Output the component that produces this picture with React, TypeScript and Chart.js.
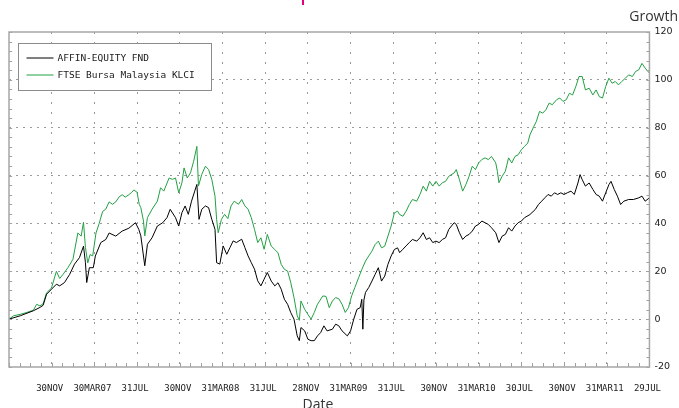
import React, { useEffect, useRef } from 'react';
import { Chart, registerables } from 'chart.js';

Chart.register(...registerables);

// ---- Data (months since 31 Jul 2006, cumulative growth %) ----
const seriesNames = ['AFFIN-EQUITY FND', 'FTSE Bursa Malaysia KLCI'];

const fundMonths = [
  0, 1.05, 2.28, 2.9, 3.2, 3.52, 3.98, 4.44, 4.75, 5.2,
  5.68, 6.14, 6.6, 6.98, 7.16, 7.28, 7.53, 7.9, 8.09, 8.6,
  9.07, 9.38, 10.0, 10.6, 11.23, 11.85, 12.16, 12.35, 12.72, 12.97,
  13.4, 13.9, 14.4, 14.8, 15.1, 15.6, 15.9, 16.2, 16.5, 16.8,
  17.1, 17.4, 17.6, 17.8, 18.06, 18.4, 18.7, 19.0, 19.3, 19.45,
  19.75, 20.06, 20.4, 20.7, 21.0, 21.3, 21.8, 22.1, 22.4, 22.7,
  23.0, 23.3, 23.6, 23.9, 24.2, 24.57, 24.9, 25.2, 25.5, 25.8,
  26.1, 26.4, 26.7, 27.0, 27.2, 27.35, 27.7, 28.0, 28.3, 28.6,
  28.9, 29.2, 29.5, 29.8, 30.3, 30.6, 30.9, 31.2, 31.7, 32.0,
  32.3, 32.6, 32.9, 33.05, 33.15, 33.25, 33.4, 33.7, 34.0, 34.3,
  34.6, 34.9, 35.2, 35.5, 35.8, 36.1, 36.4, 36.6, 36.9, 37.2,
  37.5, 37.8, 38.2, 38.5, 38.8, 39.1, 39.4, 39.7, 40.0, 40.3,
  40.6, 40.9, 41.2, 41.7, 41.9, 42.2, 42.5, 42.8, 43.1, 43.4,
  43.7, 44.0, 44.3, 44.6, 44.9, 45.2, 45.6, 45.9, 46.2, 46.5,
  46.8, 47.1, 47.4, 47.7, 48.0, 48.3, 48.8, 49.3, 49.6, 49.9,
  50.2, 50.5, 50.8, 51.1, 51.4, 51.7, 52.0, 52.3, 52.65, 52.96,
  53.3, 53.5, 53.7, 54.0, 54.35, 54.7, 55.0, 55.3, 55.6, 55.9,
  56.2, 56.4, 56.7, 57.0, 57.3, 57.6, 58.05, 58.5, 59.0, 59.3,
  59.6, 60.0,
];
const fundValues = [
  0, 1.4, 3.5, 4.9, 5.8, 10.4, 12.5, 14.6, 13.9, 15.3,
  18.7, 23, 25.7, 30.5, 23.6, 15.3, 21.5, 21.5, 26.4, 32,
  33.3, 36, 34.7, 36.8, 38, 40.3, 37.5, 34.8, 22.3, 31.3,
  34, 38.9, 40.3, 42.4, 45.9, 42.4, 38.9, 44.5, 47.3, 43.8,
  49.3, 53.5, 56.3, 41.7, 45.9, 47.3, 46.6, 41.7, 37.5, 23.6,
  23, 30.6, 27.1, 29.9, 32.7, 32, 33.4, 29.9, 26.4, 23.6,
  20.9, 16, 13.9, 16.7, 19.5, 15.9, 13.9, 15.2, 12.5, 8.3,
  6.2, 2.7, 0, -7, -9, -3.5, -4.9, -8.4, -9, -9,
  -7, -5.6, -2.8, -4.9, -4.2, -2.1, -2.8, -4.9, -7, -4.9,
  0, 4.1, 4.8, 8.3, -4.2, 8, 11.2, 13.2, 15.9, 18.7,
  21.5, 15.9, 18, 22.9, 26.4, 29.1, 29.8, 27.8, 29.2, 30.6,
  32, 33.3, 32.6, 34, 36.1, 33.3, 34, 32, 32.6, 32,
  33.3, 34, 37.5, 40.3, 39.6, 36.1, 33.3, 34.7, 35.4, 36.8,
  38.9, 39.6, 41, 40.3, 39.6, 38.2, 36.1, 32, 34.7, 35.4,
  38.2, 36.8, 38.9, 40.3, 41, 42.4, 43.7, 45.8, 47.9, 49.3,
  50.7, 52.1, 51.4, 52.8, 52.1, 52.8, 52.1, 52.8, 53.5, 52.1,
  56.9, 60.4, 58.3, 55.6, 56.9, 54.2, 52.1, 51.4, 49.3, 52.8,
  56.2, 57.6, 54.2, 51.4, 47.9, 49.3, 50, 50, 50.7, 51.4,
  49.3, 50.7,
];

const klciMonths = [
  0, 0.43, 1.05, 1.67, 2.28, 2.59, 2.9, 3.2, 3.52, 3.98,
  4.44, 4.75, 5.06, 5.52, 5.99, 6.45, 6.76, 6.98, 7.16, 7.38,
  7.6, 7.84, 8.15, 8.45, 8.77, 9.07, 9.38, 9.7, 10.0, 10.3,
  10.6, 10.9, 11.23, 11.5, 11.7, 12.0, 12.2, 12.35, 12.6, 12.72,
  12.97, 13.4, 13.9, 14.2, 14.5, 15.0, 15.3, 15.6, 15.9, 16.2,
  16.4, 16.7, 17.0, 17.3, 17.6, 17.75, 18.06, 18.4, 18.7, 19.0,
  19.3, 19.45, 19.6, 19.9, 20.2, 20.5, 20.8, 21.1, 21.5, 21.8,
  22.1, 22.4, 22.7, 23.0, 23.3, 23.6, 23.9, 24.2, 24.57, 24.9,
  25.2, 25.5, 25.8, 26.1, 26.4, 26.7, 27.0, 27.2, 27.35, 27.7,
  28.0, 28.3, 28.6, 28.9, 29.4, 29.7, 30.0, 30.3, 30.6, 30.9,
  31.2, 31.5, 31.8, 32.1, 32.4, 32.75, 33.06, 33.4, 33.7, 34.0,
  34.3, 34.6, 34.9, 35.2, 35.5, 35.8, 36.1, 36.4, 36.6, 36.9,
  37.2, 37.5, 37.8, 38.2, 38.5, 38.8, 39.1, 39.4, 39.7, 40.0,
  40.3, 40.6, 40.9, 41.2, 41.7, 41.9, 42.2, 42.5, 42.8, 43.1,
  43.4, 43.7, 44.0, 44.3, 44.6, 44.9, 45.2, 45.6, 45.75, 45.9,
  46.2, 46.5, 46.8, 47.1, 47.4, 47.7, 48.0, 48.3, 48.6, 48.8,
  49.1, 49.4, 49.7, 50.0, 50.3, 50.6, 50.9, 51.3, 51.6, 51.9,
  52.2, 52.5, 52.8, 53.1, 53.4, 53.7, 54.0, 54.35, 54.7, 55.0,
  55.3, 55.6, 55.9, 56.2, 56.5, 56.8, 57.1, 57.4, 57.75, 58.05,
  58.4, 58.7, 59.0, 59.3, 59.6, 60.0,
];
const klciValues = [
  0, 1.4, 2, 2.8, 3.7, 6.2, 5.5, 6.5, 11, 13,
  20, 17, 18.7, 21.5, 25, 36, 34.7, 40.5, 30, 23.5,
  27, 26.4, 36, 40, 45, 46, 49, 48, 49, 51,
  52, 51, 52, 53, 54, 53, 48, 46.6, 41, 34.8,
  42.4, 45.9, 49.3, 54.9, 53.5, 59, 58.4, 59, 52.8, 57,
  63.2, 59, 61.1, 66, 72.2, 55.6, 60.5, 63.9, 62.5, 58.4,
  51.4, 41.7, 36.1, 41.7, 43.8, 42, 47.3, 49.3, 48, 50,
  47.3, 45.9, 42.4, 37.5, 32, 34, 29.2, 35.4, 30.5, 29.1,
  27.7, 22.9, 20.8, 20.1, 15.2, 9, 1.4, -0.5, 7.6, 4.1,
  2, 0, 2.8, 6.2, 9.7, 9.5, 4.8, 7.6, 9, 8.5,
  6.2, 2.8, 4.8, 9.7, 13.2, 17.3, 20.8, 24.3, 26.4, 28.4,
  31.2, 32.6, 29.8, 30.5, 34.7, 38.9, 44.4, 45.1, 43.7, 43,
  45.1, 47.9, 50, 49.3, 52.1, 55.6, 53.5, 57.6, 55.6, 57.6,
  55.6, 57, 57.6, 59.7, 61.1, 62.5, 58.3, 53.5, 56.2, 59.7,
  63.9, 62.5, 65.3, 66.7, 67.4, 66.7, 68, 65.3, 61.8, 57,
  59.7, 61.8, 67.4, 65.3, 68, 68.7, 70.8, 72.2, 73.6, 77,
  79.9, 82.6, 86.8, 86.1, 87.5, 90.3, 89.6, 91.7, 92.4, 91,
  91.7, 94.4, 93.7, 97.2, 101.4, 101.4, 95.8, 96.5, 93.7, 95.8,
  93, 92.4, 97.2, 100.7, 98.6, 99.3, 97.9, 99.3, 100.7, 102.1,
  101.4, 103.5, 104.2, 106.9, 104.9, 102.8,
];

const xTickMonths = [4, 8, 12, 16, 20, 24, 28, 32, 36, 40, 44, 48, 52, 56, 60];
const xTickLabels = [
  '30NOV', '30MAR07', '31JUL', '30NOV', '31MAR08', '31JUL', '28NOV', '31MAR09',
  '31JUL', '30NOV', '31MAR10', '30JUL', '30NOV', '31MAR11', '29JUL',
];
const yTickValues = [-20, 0, 20, 40, 60, 80, 100, 120];
const xMin = 0;
const xMax = 60;
const yMin = -20;
const yMax = 120;
const minorMonthStep = 1;
const minorGrowthStep = 4;

const colors = ['#000000', '#22a043'];
const GRID = '#9a9a9a';
const CLEAR = 'rgba(0,0,0,0)';

const decorPlugin = {
  id: 'decor',
  afterDraw(chart: any) {
    const { ctx, chartArea: a } = chart;
    const xs = chart.scales.x;
    const ys = chart.scales.y;
    ctx.save();
    // minor tick marks inside the frame
    ctx.strokeStyle = '#a0a0a0';
    ctx.lineWidth = 1;
    ctx.beginPath();
    for (let m = xMin; m <= xMax; m += minorMonthStep) {
      const px = Math.round(xs.getPixelForValue(m)) + 0.5;
      ctx.moveTo(px, a.bottom);
      ctx.lineTo(px, a.bottom - 4);
    }
    for (let v = yMin; v <= yMax; v += minorGrowthStep) {
      const py = Math.round(ys.getPixelForValue(v)) + 0.5;
      ctx.moveTo(a.left, py);
      ctx.lineTo(a.left + 3, py);
      ctx.moveTo(a.right, py);
      ctx.lineTo(a.right - 3, py);
    }
    ctx.stroke();
    // frame
    ctx.strokeStyle = '#a6a6a6';
    ctx.lineWidth = 1.5;
    ctx.strokeRect(a.left, a.top, a.right - a.left, a.bottom - a.top);

    // legend box
    const lx = Math.round(a.left) + 9.5;
    const ly = Math.round(a.top) + 11.5;
    ctx.fillStyle = '#ffffff';
    ctx.fillRect(lx, ly, 193, 47);
    ctx.strokeStyle = '#8c8c8c';
    ctx.lineWidth = 1;
    ctx.strokeRect(lx, ly, 193, 47);
    ctx.font = '9.5px "DejaVu Sans Mono"';
    ctx.textAlign = 'left';
    ctx.textBaseline = 'middle';
    chart.data.datasets.forEach((ds: any, i: number) => {
      const yy = ly + 14.5 + i * 17;
      ctx.strokeStyle = ds.borderColor;
      ctx.lineWidth = 1;
      ctx.beginPath();
      ctx.moveTo(lx + 8, yy);
      ctx.lineTo(lx + 35, yy);
      ctx.stroke();
      ctx.fillStyle = '#1a1a1a';
      ctx.fillText(ds.label, lx + 39, yy + 0.5);
    });

    // axis titles
    ctx.fillStyle = '#333333';
    ctx.font = '14px "Open Sans"';
    ctx.textBaseline = 'alphabetic';
    ctx.textAlign = 'right';
    ctx.fillText('Growth', 678, 21);
    ctx.textAlign = 'center';
    ctx.fillText('Date', 318, 409);
    ctx.restore();
  },
};

export default function App() {
  const ref = useRef<HTMLCanvasElement>(null);

  useEffect(() => {
    const canvas = ref.current;
    if (!canvas) return;
    const chart = new Chart(canvas, {
      type: 'line',
      data: {
        datasets: [
          {
            label: seriesNames[0],
            data: fundMonths.map((m, i) => ({ x: m, y: fundValues[i] })),
            borderColor: colors[0],
            borderWidth: 1,
            pointRadius: 0,
            tension: 0,
            fill: false,
          },
          {
            label: seriesNames[1],
            data: klciMonths.map((m, i) => ({ x: m, y: klciValues[i] })),
            borderColor: colors[1],
            borderWidth: 1,
            pointRadius: 0,
            tension: 0,
            fill: false,
          },
        ],
      },
      options: {
        animation: false,
        responsive: false,
        devicePixelRatio: 1,
        layout: { padding: { left: 9, top: 32, right: 0, bottom: 0 } },
        plugins: {
          legend: { display: false },
          title: { display: false },
          tooltip: { enabled: false },
        },
        scales: {
          x: {
            type: 'linear',
            min: xMin,
            max: xMax,
            afterBuildTicks: (s: any) => {
              s.ticks = xTickMonths.map((v) => ({ value: v }));
            },
            afterFit: (s: any) => {
              s.height = 41;
            },
            ticks: {
              autoSkip: false,
              maxRotation: 0,
              minRotation: 0,
              padding: 16,
              labelOffset: -2,
              color: '#222222',
              font: { family: '"DejaVu Sans Mono"', size: 9 },
              callback: (v: any) => {
                const i = xTickMonths.indexOf(Number(v));
                return i < 0 ? '' : xTickLabels[i];
              },
            },
            grid: {
              drawTicks: false,
              lineWidth: 1,
              color: (c: any) => (c.tick && c.tick.value === xMax ? CLEAR : GRID),
            },
            border: { display: false, dash: [2, 8] },
          },
          y: {
            type: 'linear',
            position: 'right',
            min: yMin,
            max: yMax,
            afterBuildTicks: (s: any) => {
              s.ticks = yTickValues.map((v) => ({ value: v }));
            },
            afterFit: (s: any) => {
              s.width = 23;
            },
            ticks: {
              padding: 5,
              color: '#222222',
              font: { family: '"DejaVu Sans"', size: 9.5 },
            },
            grid: {
              drawTicks: false,
              lineWidth: 1,
              color: (c: any) =>
                c.tick && (c.tick.value === yMin || c.tick.value === yMax) ? CLEAR : GRID,
            },
            border: { display: false, dash: [2, 5] },
          },
        },
      },
      plugins: [decorPlugin],
    } as any);
    return () => chart.destroy();
  }, []);

  return (
    <div
      style={{
        position: 'absolute',
        left: 0,
        top: 0,
        width: 679,
        height: 408,
        background: '#ffffff',
        overflow: 'hidden',
      }}
    >
      <canvas
        ref={ref}
        width={679}
        height={408}
        style={{ position: 'absolute', left: 0, top: 0, width: 679, height: 408, display: 'block' }}
      />
      <div
        style={{ position: 'absolute', left: 302, top: 0, width: 2, height: 5, background: '#e4007c' }}
      />
    </div>
  );
}
